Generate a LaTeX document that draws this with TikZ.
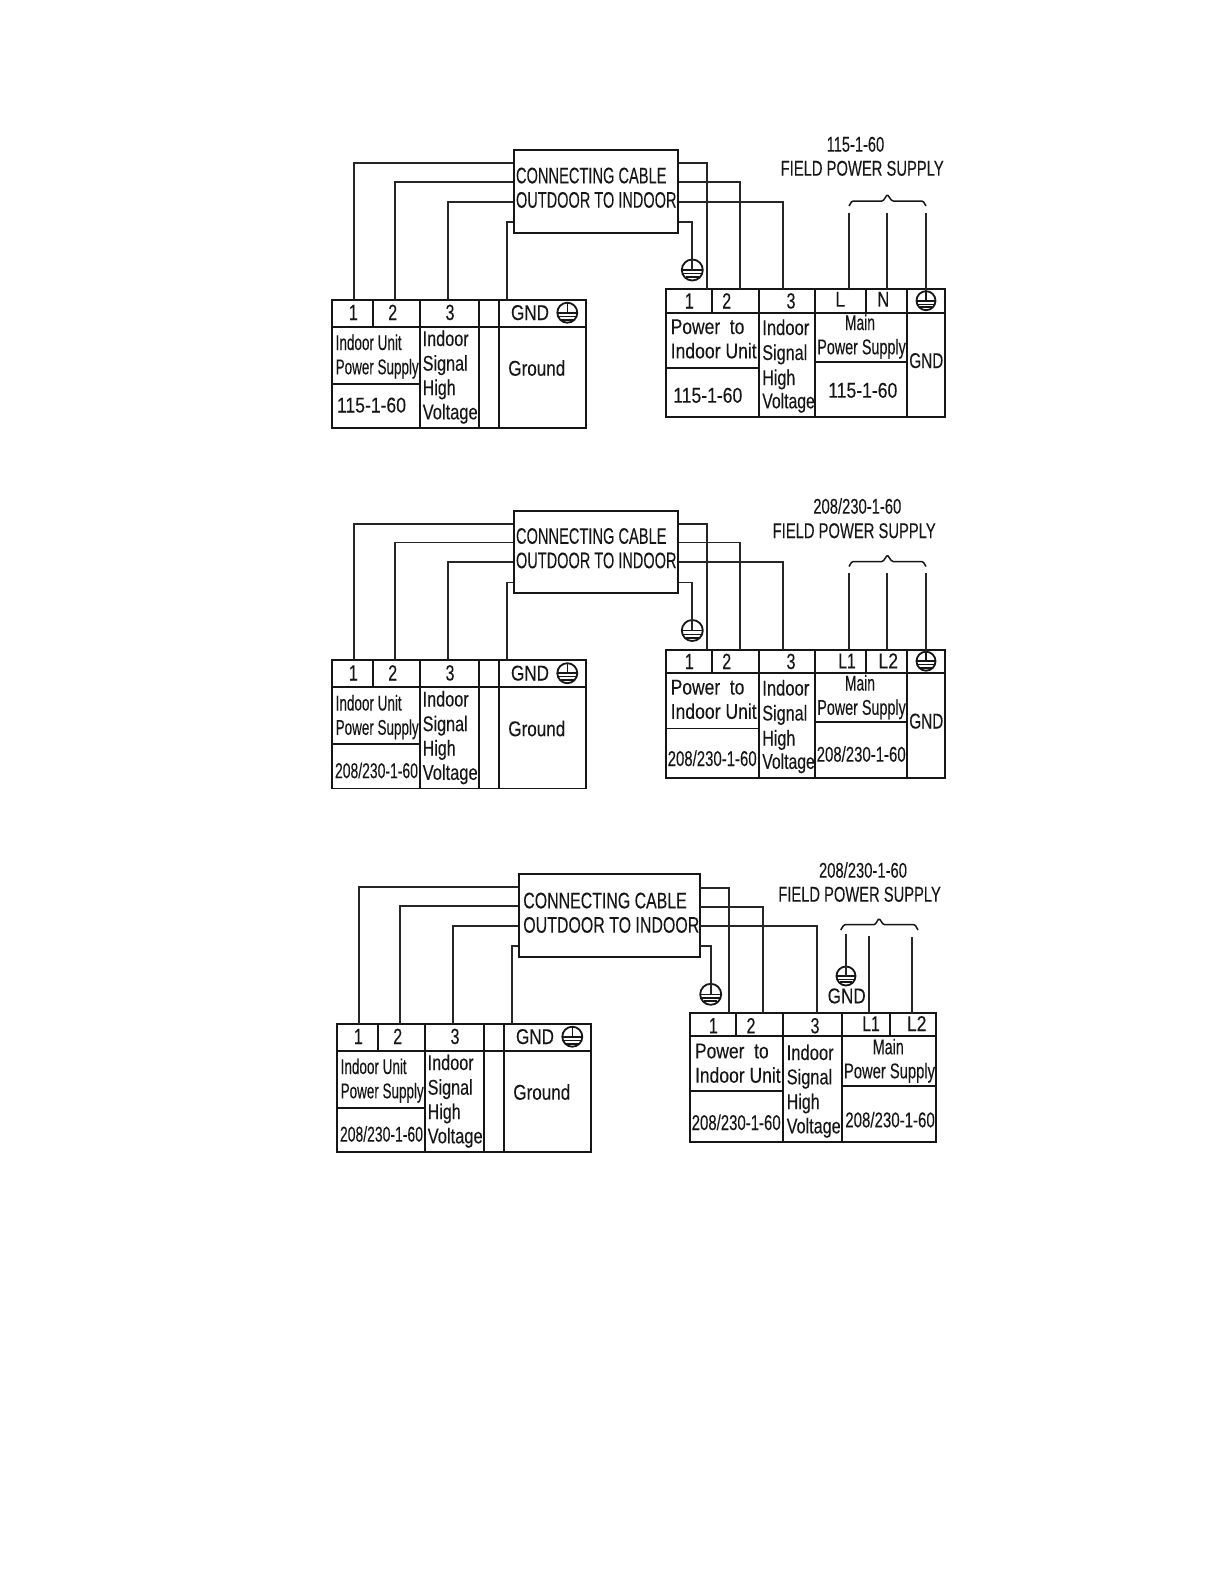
\documentclass[tikz,border=0pt]{standalone}
\usepackage{fontspec}
\usepackage{graphicx}
\setmainfont[FakeBold=0.12]{Liberation Sans}
\definecolor{ink}{HTML}{161616}
\definecolor{wirec}{HTML}{262626}
\newcommand\lbl[3]{{\pgfmathsetmacro\fsz{#1*1.07}\fontsize{\fsz}{\fsz}\selectfont\resizebox{#2pt}{\height}{#3}}}
\tikzset{
  tbl/.style={draw=ink,line width=1.9pt},
  wire/.style={draw=wirec,line width=1.9pt},
  cbox/.style={draw=ink,line width=2pt,inner sep=0pt,outer sep=0pt},
  bl/.style={inner sep=0pt,outer sep=0pt,anchor=base west,text=ink},
  bc/.style={inner sep=0pt,outer sep=0pt,anchor=base,text=ink},
  gcirc/.style={circle,draw=ink,line width=1.8pt,inner sep=0pt,outer sep=0pt},
  brc/.style={draw=ink,line width=1.5pt,rounded corners=1.2pt}
}
% ground symbol: name, x, y, radius
\newcommand\gsym[4]{%
  \node[gcirc,minimum size=#4*2pt] (#1) at (#2,#3) {};
  \draw[ink,line width=1.6pt] (#1.north) -- (#1.center);
  \draw[ink,line width=1.6pt] (#1.west) -- (#1.east);
  \draw[ink,line width=1.2pt] ($(#1.center)+(-0.86*#4,0.36*#4)$) -- ($(#1.center)+(0.86*#4,0.36*#4)$);
  \draw[ink,line width=2pt] ($(#1.center)+(-0.62*#4,0.68*#4)$) -- ($(#1.center)+(0.62*#4,0.68*#4)$);
}
% left terminal block with its wires: prefix, shift, rating text, rating x, rating width, rating baseline
\newcommand\LeftBlock[6]{%
\begin{scope}[shift={#2}]
  \draw[tbl] (332,299.7) rectangle (585.7,428);
  \draw[tbl] (332,326.7) -- (585.7,326.7);
  \draw[tbl] (373,299.7) -- (373,326.7);
  \draw[tbl] (420.3,299.7) -- (420.3,428);
  \draw[tbl] (479,299.7) -- (479,428);
  \draw[tbl] (499,299.7) -- (499,428);
  \draw[tbl] (332,383.7) -- (420.3,383.7);
  \coordinate (#1-a1) at (513.7,163.3);
  \coordinate (#1-a2) at (513.7,182);
  \coordinate (#1-a3) at (513.7,201.7);
  \coordinate (#1-a4) at (513.7,222);
  \coordinate (#1-t1) at (354,299.7);
  \coordinate (#1-t2) at (395.3,299.7);
  \coordinate (#1-t3) at (448.3,299.7);
  \coordinate (#1-t4) at (506.7,299.7);
  \draw[wire] (#1-a1) -| (#1-t1);
  \draw[wire] (#1-a2) -| (#1-t2);
  \draw[wire] (#1-a3) -| (#1-t3);
  \draw[wire] (#1-a4) -| (#1-t4);
  \node[bc] (#1-l1) at (353.3,320) {\lbl{20.5}{9}{1}};
  \node[bc] (#1-l2) at (392.7,320) {\lbl{20.5}{9}{2}};
  \node[bc] (#1-l3) at (450,320) {\lbl{20.5}{9}{3}};
  \node[bl] (#1-gnd) at (511,320) {\lbl{20}{38}{GND}};
  \gsym{#1-gs}{567.3}{312.7}{10}
  \node[bl] (#1-iu) at (335.7,350) {\lbl{20}{66}{Indoor Unit}};
  \node[bl] (#1-ps) at (335.7,374.3) {\lbl{20}{83}{Power Supply}};
  \node[bl] (#1-rt) at (#4,#6) {\lbl{20}{#5}{#3}};
  \node[bl] (#1-s1) at (422.7,346) {\lbl{20}{46}{Indoor}};
  \node[bl] (#1-s2) at (422.7,370.7) {\lbl{20}{45}{Signal}};
  \node[bl] (#1-s3) at (422.7,395) {\lbl{20}{33}{High}};
  \node[bl] (#1-s4) at (422.7,419.3) {\lbl{20}{55}{Voltage}};
  \node[bl] (#1-gr) at (508.3,375.7) {\lbl{20}{57}{Ground}};
\end{scope}}
% right block of panels 1 and 2
\newcommand\RightBlock[4]{% prefix, shift, field rating, extras
\begin{scope}[shift={#2}]
  \draw[tbl] (666,289.3) rectangle (945,417.3);
  \draw[tbl] (666,312.7) -- (945,312.7);
  \draw[tbl] (712,289.3) -- (712,312.7);
  \draw[tbl] (759,289.3) -- (759,417.3);
  \draw[tbl] (815,289.3) -- (815,417.3);
  \draw[tbl] (866,289.3) -- (866,312.7);
  \draw[tbl] (907.3,289.3) -- (907.3,417.3);
  \draw[tbl] (666,368) -- (759,368);
  \draw[tbl] (815,361.7) -- (907.3,361.7);
  \coordinate (#1-b1) at (678,163.3);
  \coordinate (#1-b2) at (678,182);
  \coordinate (#1-b3) at (678,201.7);
  \coordinate (#1-b4) at (678,222);
  \coordinate (#1-r1) at (706.7,289.3);
  \coordinate (#1-r2) at (740,289.3);
  \coordinate (#1-r3) at (782.7,289.3);
  \draw[wire] (#1-b1) -| (#1-r1);
  \draw[wire] (#1-b2) -| (#1-r2);
  \draw[wire] (#1-b3) -| (#1-r3);
  \gsym{#1-eg}{692.3}{270}{10.5}
  \draw[wire] (#1-b4) -| (#1-eg.center);
  \gsym{#1-tg}{926}{300.7}{9.5}
  \coordinate (#1-f1) at (849,212.7);
  \coordinate (#1-f2) at (887.3,212.7);
  \coordinate (#1-f3) at (926,212.7);
  \coordinate (#1-m1) at (849,289.3);
  \coordinate (#1-m2) at (887.3,289.3);
  \draw[wire] (#1-f1) -- (#1-m1);
  \draw[wire] (#1-f2) -- (#1-m2);
  \draw[wire] (#1-f3) -- (#1-tg.north);
  \draw[brc] (849,206) -- (852,201) -- (883,201) -- (887.3,194.5) -- (892,201) -- (923,201) -- (926,206);
  \node[bc] (#1-l1) at (689.3,308.5) {\lbl{20.5}{9}{1}};
  \node[bc] (#1-l2) at (726.7,308.5) {\lbl{20.5}{9}{2}};
  \node[bc] (#1-l3) at (791,308.5) {\lbl{20.5}{9}{3}};
  \node[bl] (#1-p1) at (670.7,334) {\lbl{20}{73.7}{Power\ \ to}};
  \node[bl] (#1-p2) at (670.7,358.3) {\lbl{20}{86}{Indoor Unit}};
  \node[bl] (#1-s1) at (762.3,335) {\lbl{20}{47}{Indoor}};
  \node[bl] (#1-s2) at (762.3,360) {\lbl{20}{45}{Signal}};
  \node[bl] (#1-s3) at (762.3,385) {\lbl{20}{33}{High}};
  \node[bl] (#1-s4) at (762.3,408.3) {\lbl{20}{52.5}{Voltage}};
  \node[bc] (#1-mn) at (860,330) {\lbl{20}{30}{Main}};
  \node[bl] (#1-ps) at (817.3,354.3) {\lbl{20}{88.5}{Power Supply}};
  \node[bl] (#1-gn) at (909.3,368) {\lbl{20}{34}{GND}};
  #4
\end{scope}}
\begin{document}
\begin{tikzpicture}[x=1pt,y=-1pt]
\usetikzlibrary{calc}
\useasboundingbox (0,0) rectangle (1224,1584);
\fill[white] (0,0) rectangle (1224,1584);
% ---------- Panel 1
\LeftBlock{p}{(0,0)}{115-1-60}{337}{69}{412.5}
\RightBlock{q}{(0,0)}{115-1-60}{
  \node[bc] (q-ln) at (840.3,306.7) {\lbl{20}{10}{L}};
  \node[bc] (q-nn) at (883.3,306.7) {\lbl{20}{12}{N}};
  \node[bl] (q-r1) at (673.3,402.7) {\lbl{20}{69}{115-1-60}};
  \node[bl] (q-r2) at (828.3,397.7) {\lbl{20}{69}{115-1-60}};
  \node[bl] (q-f1) at (826.7,151.7) {\lbl{20}{57.5}{115-1-60}};
  \node[bl] (q-f2) at (780.7,175.7) {\lbl{20}{163}{FIELD POWER SUPPLY}};
}
\node[cbox,minimum width=164.3pt,minimum height=82.7pt] (p-box) at (595.85,191.35) {};
\node[bl] (p-c1) at (516,183.3) {\lbl{21}{150.5}{CONNECTING CABLE}};
\node[bl] (p-c2) at (516,207.7) {\lbl{21}{160.5}{OUTDOOR TO INDOOR}};
% ---------- Panel 2
\LeftBlock{u}{(0,360.5)}{208/230-1-60}{335}{83}{417.6}
\RightBlock{v}{(0,360.5)}{208/230-1-60}{
  \node[bc] (v-ln) at (847,307.8) {\lbl{20}{17.5}{L1}};
  \node[bc] (v-nn) at (888.3,307.8) {\lbl{20}{19.5}{L2}};
  \node[bl] (v-r1) at (667.7,405.5) {\lbl{20}{89}{208/230-1-60}};
  \node[bl] (v-r2) at (816.7,401.2) {\lbl{20}{89}{208/230-1-60}};
  \node[bl] (v-f1) at (813.3,153.2) {\lbl{20}{88}{208/230-1-60}};
  \node[bl] (v-f2) at (772.7,177.6) {\lbl{20}{163}{FIELD POWER SUPPLY}};
}
\node[cbox,minimum width=164.3pt,minimum height=82.7pt] (u-box) at (595.85,551.85) {};
\node[bl] (u-c1) at (516,543.8) {\lbl{21}{150.5}{CONNECTING CABLE}};
\node[bl] (u-c2) at (516,568.2) {\lbl{21}{160.5}{OUTDOOR TO INDOOR}};
% ---------- Panel 3
\LeftBlock{s}{(5,724)}{208/230-1-60}{335}{83}{417.6}
\node[cbox,minimum width=181.6pt,minimum height=82.7pt] (s-box) at (609.5,915.35) {};
\node[bl] (s-c1) at (523.3,908.3) {\lbl{21}{163.5}{CONNECTING CABLE}};
\node[bl] (s-c2) at (523.3,932.7) {\lbl{21}{176}{OUTDOOR TO INDOOR}};
\draw[tbl] (690.3,1013.3) rectangle (935.7,1142);
\draw[tbl] (690.3,1035.7) -- (935.7,1035.7);
\draw[tbl] (736,1013.3) -- (736,1035.7);
\draw[tbl] (783,1013.3) -- (783,1142);
\draw[tbl] (842,1013.3) -- (842,1142);
\draw[tbl] (889.7,1013.3) -- (889.7,1035.7);
\draw[tbl] (690.3,1091.3) -- (783,1091.3);
\draw[tbl] (842,1085.7) -- (935.7,1085.7);
\coordinate (t-b1) at (700.3,887.7);
\coordinate (t-b2) at (700.3,906.7);
\coordinate (t-b3) at (700.3,926.3);
\coordinate (t-b4) at (700.3,946);
\coordinate (t-r1) at (729.3,1013.3);
\coordinate (t-r2) at (763.3,1013.3);
\coordinate (t-r3) at (817,1013.3);
\draw[wire] (t-b1) -| (t-r1);
\draw[wire] (t-b2) -| (t-r2);
\draw[wire] (t-b3) -| (t-r3);
\gsym{t-eg}{710.7}{994.3}{10.5}
\draw[wire] (t-b4) -| (t-eg.center);
\gsym{t-fg}{846}{976}{9.5}
\coordinate (t-f0) at (846,934);
\coordinate (t-f1) at (868.7,936);
\coordinate (t-f2) at (912,937);
\coordinate (t-m1) at (868.7,1013.3);
\coordinate (t-m2) at (912,1013.3);
\draw[wire] (t-f0) -- (t-fg.center);
\draw[wire] (t-f1) -- (t-m1);
\draw[wire] (t-f2) -- (t-m2);
\draw[brc] (840.7,930) -- (844,924.7) -- (875,924.7) -- (879,918.3) -- (883.5,924.7) -- (915,924.7) -- (918,930);
\node[bc] (t-l1) at (713.3,1033.3) {\lbl{20.5}{9}{1}};
\node[bc] (t-l2) at (751,1033.3) {\lbl{20.5}{9}{2}};
\node[bc] (t-l3) at (815,1033.3) {\lbl{20.5}{9}{3}};
\node[bc] (t-ln) at (871,1031) {\lbl{20}{17.5}{L1}};
\node[bc] (t-nn) at (916.7,1031) {\lbl{20}{19.5}{L2}};
\node[bl] (t-p1) at (695,1058.3) {\lbl{20}{73.7}{Power\ \ to}};
\node[bl] (t-p2) at (695,1082.7) {\lbl{20}{85.7}{Indoor Unit}};
\node[bl] (t-r1n) at (691.7,1130) {\lbl{20}{89}{208/230-1-60}};
\node[bl] (t-s1) at (786.7,1060) {\lbl{20}{47}{Indoor}};
\node[bl] (t-s2) at (786.7,1084.3) {\lbl{20}{45.5}{Signal}};
\node[bl] (t-s3) at (786.7,1109) {\lbl{20}{33}{High}};
\node[bl] (t-s4) at (786.7,1133.3) {\lbl{20}{54}{Voltage}};
\node[bc] (t-mn) at (888.3,1054.3) {\lbl{20}{31}{Main}};
\node[bl] (t-ps) at (844,1078.3) {\lbl{20}{91}{Power Supply}};
\node[bl] (t-r2n) at (845.3,1127.3) {\lbl{20}{89.5}{208/230-1-60}};
\node[bl] (t-f1l) at (819,877.7) {\lbl{20}{88}{208/230-1-60}};
\node[bl] (t-f2l) at (778.3,901.7) {\lbl{20}{162.5}{FIELD POWER SUPPLY}};
\node[bl] (t-gl) at (827.7,1003.3) {\lbl{20}{38}{GND}};
\end{tikzpicture}
\end{document}
